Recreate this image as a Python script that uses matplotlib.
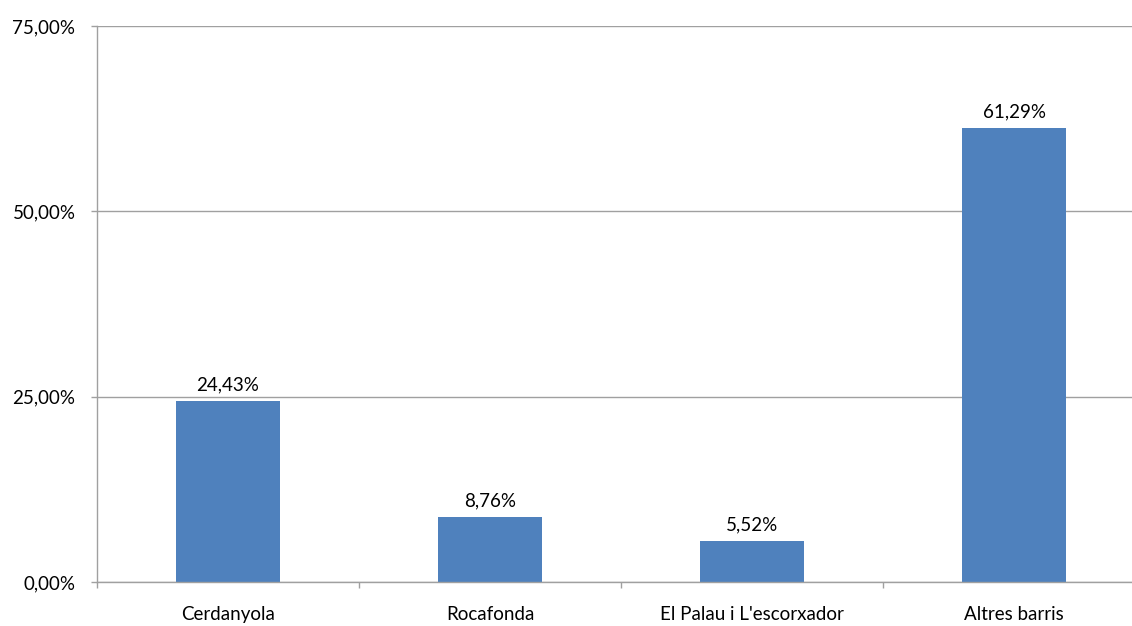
import matplotlib.pyplot as plt
from matplotlib.ticker import FixedLocator

categories = ["Cerdanyola", "Rocafonda", "El Palau i L'escorxador", "Altres barris"]
values = [24.43, 8.76, 5.52, 61.29]
yticks = [0, 25, 50, 75]
ytick_labels = ["0,00%", "25,00%", "50,00%", "75,00%"]

plt.rcParams['font.family'] = ['Lato', 'DejaVu Sans']

W, H = 1132, 626
fig = plt.figure(figsize=(W / 100, H / 100), dpi=100)
ax = fig.add_axes([97 / W, 44 / H, (1145 - 97) / W, (582 - 26) / H])

grid_color = '#A0A0A0'
fs = 13.5
x = list(range(len(categories)))
bars = ax.bar(x, values, width=0.4, color='#4F81BD', zorder=3)

for xi, v in zip(x, values):
    ax.annotate(f"{v:.2f}%".replace('.', ','), (xi, v), xytext=(0, 5.5),
                textcoords='offset points', ha='center', va='bottom',
                fontsize=fs, color='#000000')

ax.set_xlim(-0.5, len(categories) - 0.5)
ax.set_ylim(0, 75)
ax.set_yticks(yticks)
ax.set_yticklabels(ytick_labels, fontsize=fs)
ax.yaxis.grid(True, color=grid_color, linewidth=1.0, zorder=0)

ax.set_xticks(x)
ax.set_xticklabels(categories, fontsize=fs)
ax.xaxis.set_minor_locator(FixedLocator([i - 0.5 for i in range(len(categories) + 1)]))
ax.tick_params(axis='x', which='major', length=0, pad=17)
ax.tick_params(axis='x', which='minor', length=4.5, color=grid_color, width=1.0)
ax.tick_params(axis='y', length=4.5, color=grid_color, width=1.0, pad=11)

for side in ['top', 'right']:
    ax.spines[side].set_visible(False)
for side in ['left', 'bottom']:
    ax.spines[side].set_color(grid_color)
    ax.spines[side].set_linewidth(1.0)
    ax.spines[side].set_zorder(4)

fig.savefig('out.png', dpi=100)
